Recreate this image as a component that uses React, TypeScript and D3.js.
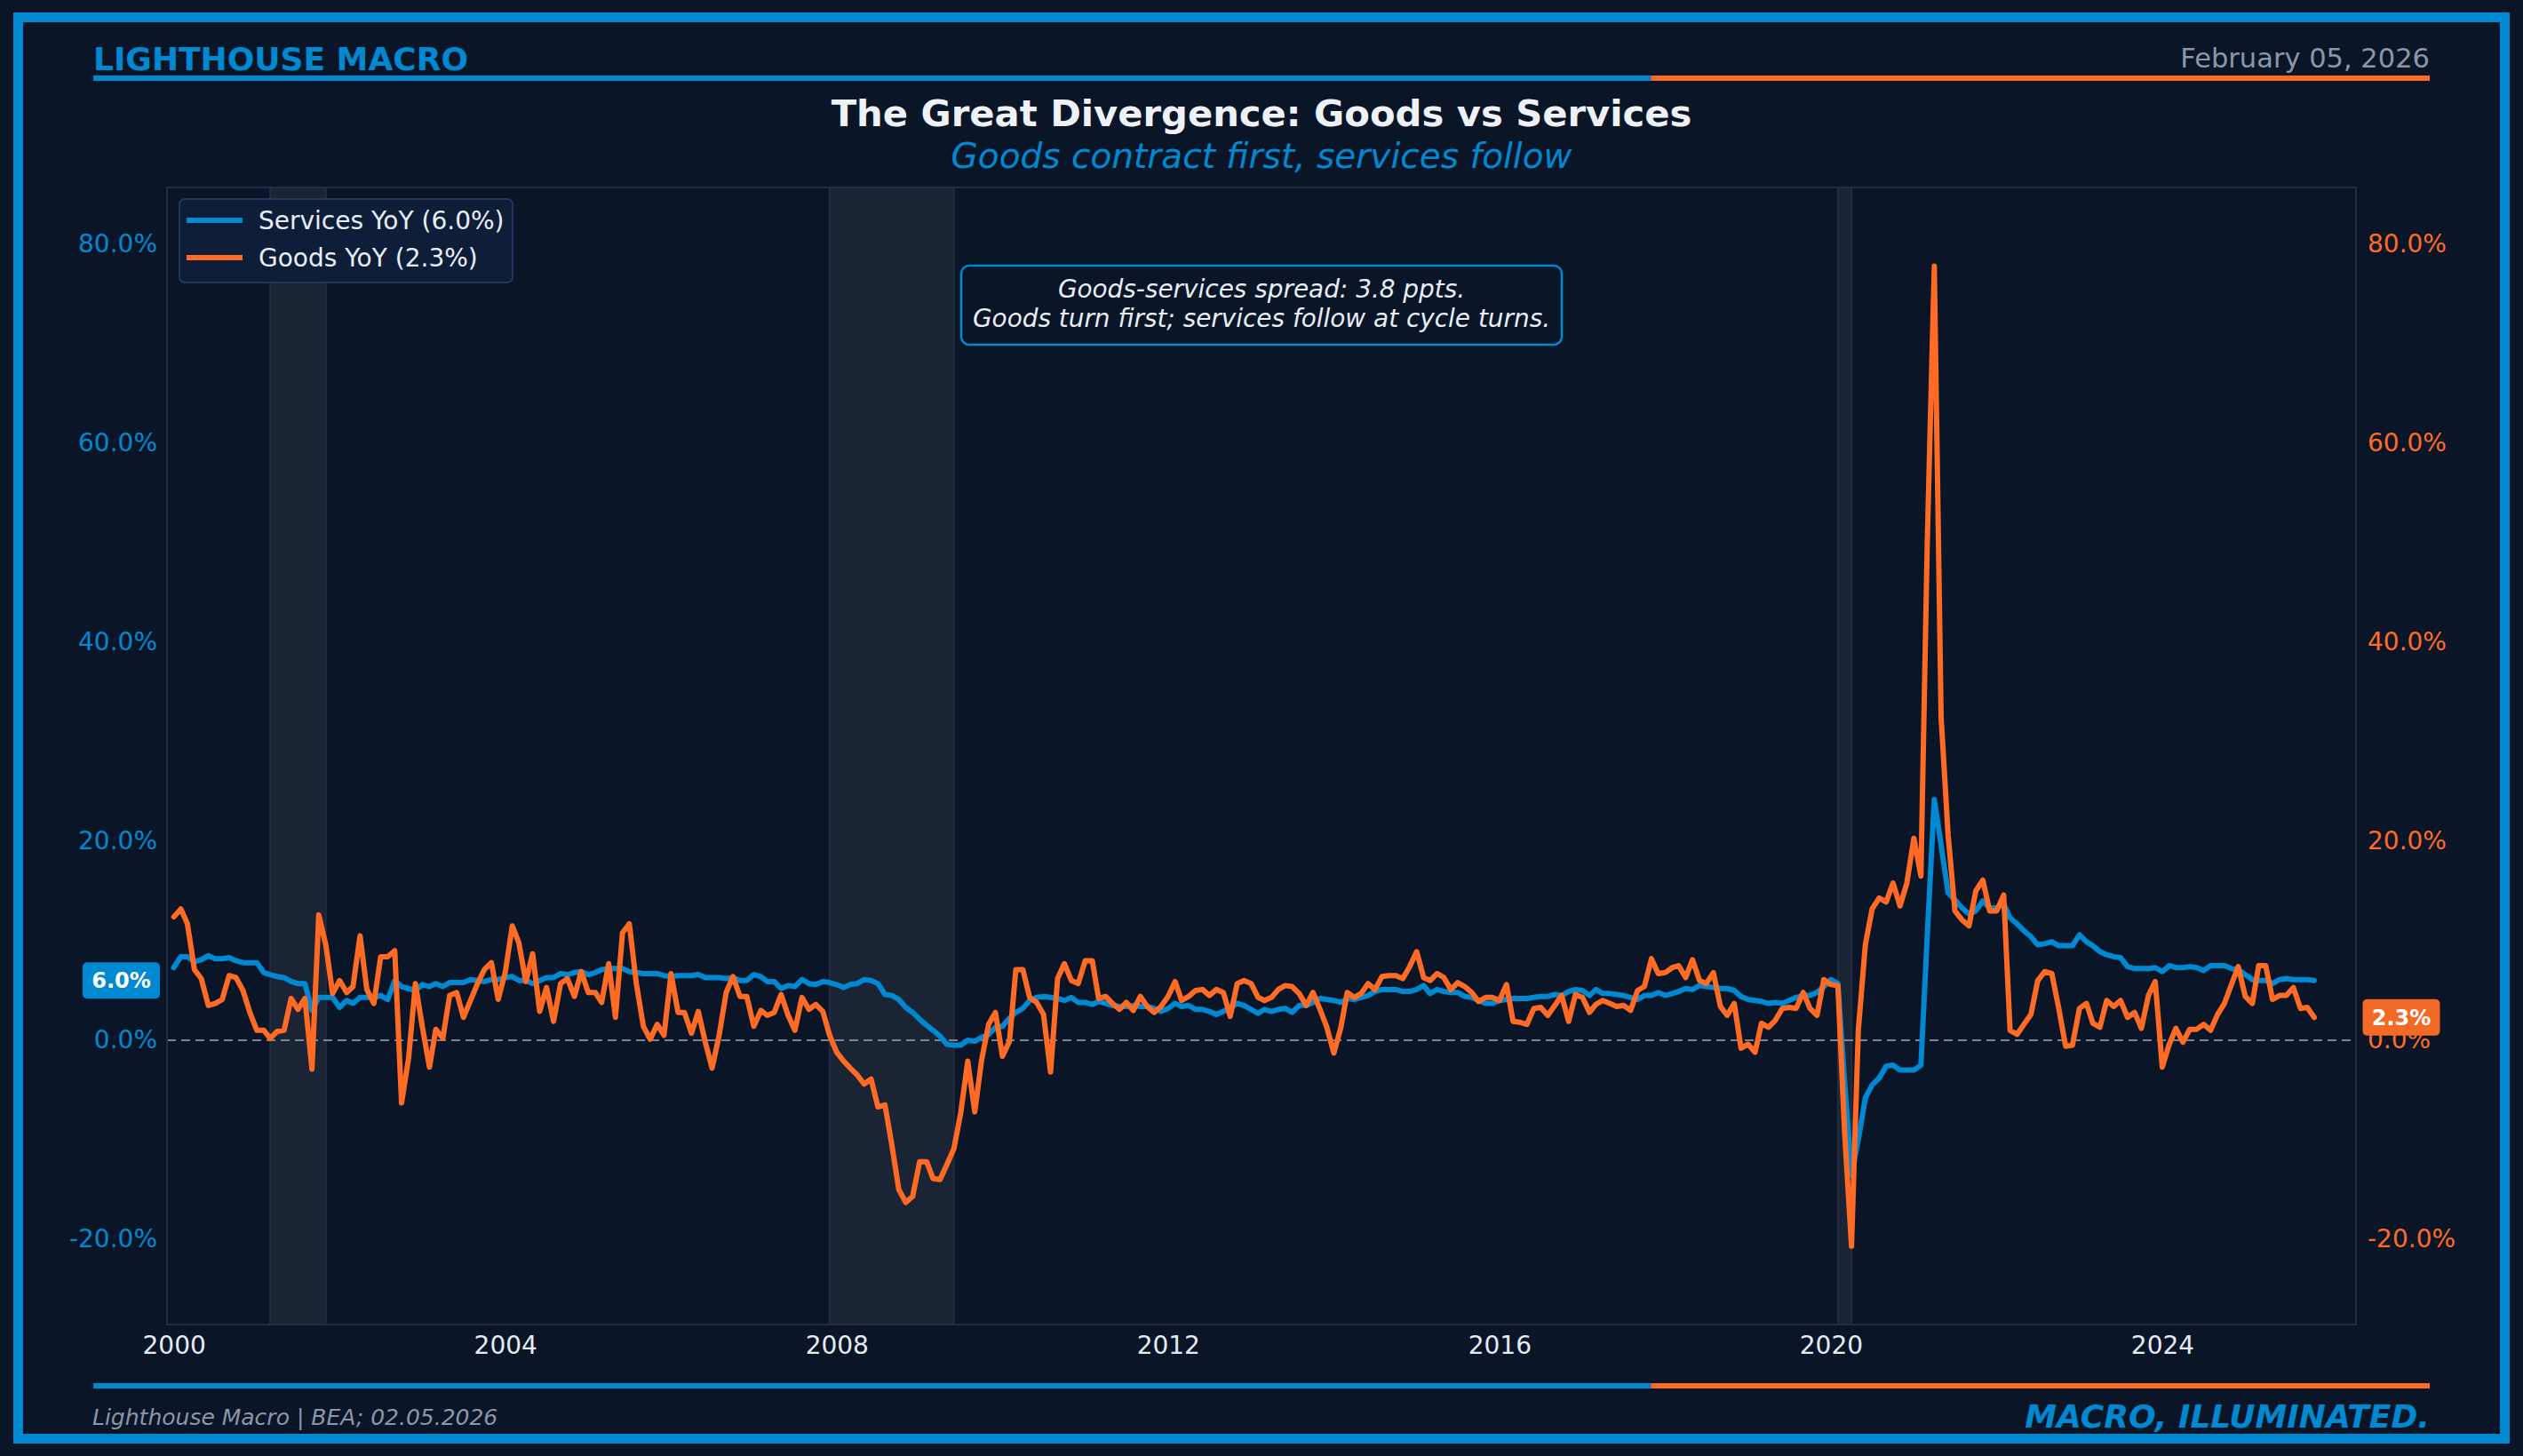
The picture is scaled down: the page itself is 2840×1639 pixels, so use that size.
import React, { useRef, useEffect } from "react";
import * as d3 from "d3";

// Monthly YoY % change, Jan 2000 .. Nov 2025
const servicesYoY: number[] = [
  7.3, 8.4, 8.4, 7.9, 8.1, 8.5, 8.2, 8.2, 8.3, 8.0, 7.8, 7.8,
  7.8, 6.8, 6.6, 6.4, 6.3, 5.9, 5.7, 5.7, 3.0, 4.3, 4.3, 4.3,
  3.3, 4.0, 3.7, 4.3, 4.3, 4.3, 4.5, 4.1, 6.0, 5.4, 5.2, 5.0,
  5.6, 5.4, 5.7, 5.4, 5.8, 5.8, 5.8, 6.1, 6.0, 5.9, 6.1, 6.1,
  6.3, 6.4, 6.0, 6.0, 5.7, 6.0, 6.3, 6.3, 6.7, 6.6, 6.8, 6.9,
  6.6, 6.8, 7.1, 7.2, 7.2, 7.2, 6.9, 6.8, 6.7, 6.7, 6.7, 6.5,
  6.4, 6.5, 6.5, 6.5, 6.6, 6.3, 6.3, 6.3, 6.2, 6.3, 6.0, 6.0,
  6.6, 6.4, 5.9, 5.9, 5.2, 5.5, 5.4, 6.1, 5.7, 5.6, 5.9, 5.8,
  5.6, 5.3, 5.6, 5.7, 6.1, 6.0, 5.7, 4.6, 4.5, 4.1, 3.3, 2.8,
  2.1, 1.5, 1.0, 0.4, -0.4, -0.5, -0.5, 0.0, -0.1, 0.3, 0.6, 1.3,
  1.4, 2.2, 2.8, 3.2, 4.0, 4.3, 4.4, 4.3, 4.2, 4.0, 4.3, 3.8,
  3.8, 3.6, 3.9, 3.7, 3.5, 3.4, 3.4, 3.5, 3.4, 3.4, 3.2, 2.9,
  3.2, 3.7, 3.4, 3.5, 3.1, 3.1, 2.9, 2.6, 2.9, 3.3, 3.7, 3.5,
  3.1, 2.7, 3.1, 2.9, 3.1, 3.2, 2.8, 3.5, 3.5, 3.8, 4.2, 4.1,
  4.0, 3.8, 4.2, 4.1, 4.3, 4.5, 4.9, 5.1, 5.1, 5.1, 4.9, 4.9,
  5.1, 5.5, 4.7, 5.1, 4.9, 4.8, 4.8, 4.4, 4.3, 4.0, 3.7, 3.7,
  4.0, 4.1, 4.2, 4.2, 4.2, 4.3, 4.4, 4.4, 4.6, 4.5, 4.9, 5.1,
  5.0, 4.5, 5.1, 4.7, 4.7, 4.6, 4.5, 4.3, 4.1, 4.5, 4.5, 4.8,
  4.5, 4.7, 4.9, 5.2, 5.1, 5.5, 5.4, 5.3, 5.2, 5.2, 5.0, 4.4,
  4.1, 4.0, 3.9, 3.7, 3.8, 3.7, 4.0, 4.3, 4.5, 4.5, 4.8, 5.4,
  6.1, 5.7, -4.0, -13.5, -10.0, -5.8, -4.5, -3.8, -2.6, -2.5, -3.0, -3.0,
  -3.0, -2.5, 10.5, 24.2, 19.6, 14.8, 14.1, 13.3, 12.7, 13.0, 14.0, 13.3,
  13.3, 13.7, 12.3, 11.7, 11.0, 10.4, 9.6, 9.7, 9.9, 9.5, 9.5, 9.5,
  10.6, 9.9, 9.5, 8.9, 8.6, 8.4, 8.3, 7.4, 7.2, 7.2, 7.2, 7.3,
  6.9, 7.5, 7.3, 7.3, 7.4, 7.3, 7.0, 7.5, 7.5, 7.5, 7.2, 7.1,
  6.6, 6.1, 6.0, 6.0, 5.7, 6.1, 6.2, 6.1, 6.1, 6.1, 6.0,
];

const goodsYoY: number[] = [
  12.4, 13.2, 11.7, 7.1, 6.2, 3.5, 3.7, 4.1, 6.5, 6.3, 5.0, 2.8,
  1.0, 1.0, 0.2, 0.9, 1.0, 4.2, 3.1, 4.2, -2.9, 12.6, 9.6, 4.7,
  6.0, 4.8, 5.4, 10.5, 5.1, 3.7, 8.4, 8.4, 9.0, -6.3, -1.8, 5.7,
  1.3, -2.7, 1.1, 0.2, 4.5, 4.8, 2.3, 4.0, 5.7, 7.1, 7.8, 4.1,
  6.8, 11.5, 9.8, 5.9, 8.7, 2.9, 5.3, 1.9, 5.7, 6.2, 4.4, 6.9,
  4.8, 4.8, 3.8, 7.7, 2.3, 10.8, 11.7, 5.7, 1.4, 0.1, 1.6, 0.5,
  6.7, 2.8, 2.8, 0.7, 2.9, -0.2, -2.8, 0.5, 4.8, 6.4, 4.4, 4.4,
  1.4, 3.0, 2.5, 2.8, 4.6, 2.5, 1.0, 4.3, 3.1, 3.6, 2.9, 0.5,
  -1.2, -2.1, -2.8, -3.5, -4.4, -3.9, -6.7, -6.5, -10.6, -15.0, -16.3, -15.7,
  -12.2, -12.2, -13.9, -14.0, -12.5, -10.9, -7.3, -2.1, -7.2, -2.0, 1.6, 2.8,
  -1.6, -0.1, 7.1, 7.1, 4.3, 3.8, 2.6, -3.2, 6.2, 7.7, 6.0, 5.7,
  8.0, 8.0, 4.2, 4.4, 3.7, 3.1, 3.8, 3.0, 4.4, 3.4, 2.8, 3.4,
  4.4, 5.9, 4.0, 4.4, 5.0, 5.1, 4.5, 5.1, 4.8, 2.4, 5.7, 6.0,
  5.7, 4.3, 4.0, 4.3, 5.1, 5.5, 5.4, 4.7, 3.5, 4.8, 3.1, 1.3,
  -1.3, 1.3, 4.8, 4.3, 4.7, 5.7, 5.1, 6.4, 6.5, 6.5, 6.2, 7.4,
  8.9, 6.3, 6.0, 6.7, 6.3, 5.1, 5.8, 5.4, 4.8, 3.9, 4.3, 4.3,
  4.0, 5.6, 1.9, 1.8, 1.6, 3.2, 3.3, 2.5, 3.5, 4.5, 1.9, 4.6,
  4.3, 2.8, 3.6, 4.0, 3.7, 3.4, 3.5, 3.0, 5.0, 5.4, 8.2, 6.7,
  6.8, 7.3, 7.5, 6.3, 8.1, 6.0, 5.7, 6.8, 3.4, 2.5, 3.7, -0.8,
  -0.4, -1.2, 1.7, 1.3, 2.0, 3.2, 3.3, 3.2, 4.8, 3.2, 2.5, 6.1,
  5.6, 5.5, -9.0, -20.7, 1.0, 9.6, 13.2, 14.3, 13.9, 15.8, 13.5, 15.8,
  20.3, 16.5, 50.0, 77.8, 32.5, 20.6, 13.0, 12.1, 11.5, 15.0, 16.1, 13.0,
  13.0, 14.6, 1.0, 0.6, 1.6, 2.6, 6.0, 6.9, 6.7, 3.3, -0.6, -0.5,
  3.2, 3.7, 1.7, 1.3, 4.0, 3.4, 4.0, 2.3, 2.8, 1.2, 4.5, 5.9,
  -2.7, -0.4, 1.2, -0.2, 1.1, 1.1, 1.6, 1.0, 2.6, 3.7, 5.6, 7.4,
  4.4, 3.7, 7.5, 7.5, 4.1, 4.5, 4.5, 5.3, 3.2, 3.3, 2.3,
];

// NBER recessions shown as shaded bands
const recessions: [string, string][] = [
  ["2001-03-01", "2001-11-01"],
  ["2007-12-01", "2009-06-01"],
  ["2020-02-01", "2020-04-01"],
];

const yTicks = [-20, 0, 20, 40, 60, 80];
const xTickYears = [2000, 2004, 2008, 2012, 2016, 2020, 2024];

const BG = "#0a1628";
const BLUE = "#0089d1";
const ORANGE = "#ff6b24";
const BADGE_ORANGE = "#f26a25";
const GRAY = "#8b96a8";
const TEXT = "#e8eef5";
const FONT = "DejaVu Sans, Verdana, sans-serif";

interface Point {
  date: Date;
  value: number;
}

const App: React.FC = () => {
  const svgRef = useRef<SVGSVGElement | null>(null);

  useEffect(() => {
    document.body.style.margin = "0";
    document.body.style.background = BG;

    const width = 2840;
    const height = 1639;
    const plot = { left: 188, top: 211, right: 2652, bottom: 1491 };

    const toPoints = (arr: number[]): Point[] =>
      arr.map((v, i) => ({ date: new Date(2000, i, 1), value: v }));
    const services = toPoints(servicesYoY);
    const goods = toPoints(goodsYoY);

    d3.select(svgRef.current).selectAll("*").remove();

    const svg = d3
      .select(svgRef.current)
      .attr("width", width)
      .attr("height", height)
      .style("display", "block")
      .style("font-family", FONT);

    svg.append("rect").attr("width", width).attr("height", height).attr("fill", BG);

    // Scales
    const x = d3
      .scaleTime()
      .domain([new Date(1999, 11, 2), new Date(2026, 4, 4)])
      .range([plot.left, plot.right]);

    const y = d3.scaleLinear().domain([-28.57, 85.71]).range([plot.bottom, plot.top]);

    // Outer frame
    svg
      .append("rect")
      .attr("x", 20.5)
      .attr("y", 19.5)
      .attr("width", 2799)
      .attr("height", 1600)
      .attr("fill", "none")
      .attr("stroke", BLUE)
      .attr("stroke-width", 11);

    // Header
    svg
      .append("text")
      .attr("x", 105)
      .attr("y", 79)
      .attr("fill", BLUE)
      .attr("font-size", 36)
      .attr("font-weight", "bold")
      .text("LIGHTHOUSE MACRO");

    svg
      .append("text")
      .attr("x", 2735)
      .attr("y", 76)
      .attr("text-anchor", "end")
      .attr("fill", GRAY)
      .attr("font-size", 30.5)
      .text("February 05, 2026");

    const splitRule = (yPos: number) => {
      const x0 = 105;
      const x1 = 2735;
      const mid = x0 + (x1 - x0) * (2 / 3);
      svg.append("rect").attr("x", x0).attr("y", yPos - 3).attr("width", mid - x0).attr("height", 6).attr("fill", BLUE);
      svg.append("rect").attr("x", mid).attr("y", yPos - 3).attr("width", x1 - mid).attr("height", 6).attr("fill", ORANGE);
    };
    splitRule(88);
    splitRule(1560);

    const centerX = (plot.left + plot.right) / 2;

    svg
      .append("text")
      .attr("x", centerX)
      .attr("y", 142)
      .attr("text-anchor", "middle")
      .attr("fill", "#eef2f7")
      .attr("font-size", 41.7)
      .attr("font-weight", "bold")
      .text("The Great Divergence: Goods vs Services");

    svg
      .append("text")
      .attr("x", centerX)
      .attr("y", 189)
      .attr("text-anchor", "middle")
      .attr("fill", BLUE)
      .attr("font-size", 39)
      .attr("font-style", "italic")
      .text("Goods contract first, services follow");

    // Plot clip
    svg
      .append("defs")
      .append("clipPath")
      .attr("id", "plot-clip")
      .append("rect")
      .attr("x", plot.left)
      .attr("y", plot.top)
      .attr("width", plot.right - plot.left)
      .attr("height", plot.bottom - plot.top);

    const g = svg.append("g").attr("clip-path", "url(#plot-clip)");

    // Recession shading
    g.selectAll(".recession")
      .data(recessions)
      .join("rect")
      .attr("x", (d) => x(new Date(d[0] + "T00:00:00")))
      .attr("y", plot.top)
      .attr("width", (d) => x(new Date(d[1] + "T00:00:00")) - x(new Date(d[0] + "T00:00:00")))
      .attr("height", plot.bottom - plot.top)
      .attr("fill", "#1a2434")
      .attr("stroke", "#222e40")
      .attr("stroke-width", 2);

    // Zero line
    g.append("line")
      .attr("x1", plot.left)
      .attr("x2", plot.right)
      .attr("y1", y(0))
      .attr("y2", y(0))
      .attr("stroke", GRAY)
      .attr("stroke-width", 2)
      .attr("stroke-dasharray", "10,6")
      .attr("opacity", 0.85);

    const line = d3
      .line<Point>()
      .x((d) => x(d.date))
      .y((d) => y(d.value));

    g.append("path")
      .datum(services)
      .attr("fill", "none")
      .attr("stroke", BLUE)
      .attr("stroke-width", 6)
      .attr("stroke-linejoin", "round")
      .attr("stroke-linecap", "round")
      .attr("d", line);

    g.append("path")
      .datum(goods)
      .attr("fill", "none")
      .attr("stroke", ORANGE)
      .attr("stroke-width", 6)
      .attr("stroke-linejoin", "round")
      .attr("stroke-linecap", "round")
      .attr("d", line);

    // Plot border
    svg
      .append("rect")
      .attr("x", plot.left)
      .attr("y", plot.top)
      .attr("width", plot.right - plot.left)
      .attr("height", plot.bottom - plot.top)
      .attr("fill", "none")
      .attr("stroke", "#1f2e48")
      .attr("stroke-width", 2);

    // Axes
    const fmt = (d: d3.NumberValue) => `${(+d).toFixed(1)}%`;

    const styleAxis = (sel: d3.Selection<SVGGElement, unknown, null, undefined>, color: string) => {
      sel.select(".domain").remove();
      sel.selectAll(".tick line").remove();
      sel
        .selectAll("text")
        .attr("fill", color)
        .style("font-family", FONT)
        .style("font-size", "28px");
    };

    const leftAxis = svg
      .append("g")
      .attr("transform", `translate(${plot.left},0)`)
      .call(d3.axisLeft(y).tickValues(yTicks).tickFormat(fmt).tickSize(0).tickPadding(11));
    styleAxis(leftAxis, BLUE);

    const rightAxis = svg
      .append("g")
      .attr("transform", `translate(${plot.right},0)`)
      .call(d3.axisRight(y).tickValues(yTicks).tickFormat(fmt).tickSize(0).tickPadding(13));
    styleAxis(rightAxis, ORANGE);

    const bottomAxis = svg
      .append("g")
      .attr("transform", `translate(0,${plot.bottom})`)
      .call(
        d3
          .axisBottom(x)
          .tickValues(xTickYears.map((yr) => new Date(yr, 0, 1)))
          .tickFormat((d) => d3.timeFormat("%Y")(d as Date))
          .tickSize(0)
          .tickPadding(13)
      );
    styleAxis(bottomAxis, "#e6ebf2");

    // Legend
    const legend = svg.append("g");
    legend
      .append("rect")
      .attr("x", 202)
      .attr("y", 224)
      .attr("width", 375)
      .attr("height", 94)
      .attr("rx", 6)
      .attr("fill", "#0f1e38")
      .attr("stroke", "#22355a")
      .attr("stroke-width", 2);

    const legendItems = [
      { label: `Services YoY (${servicesYoY[servicesYoY.length - 1].toFixed(1)}%)`, color: BLUE },
      { label: `Goods YoY (${goodsYoY[goodsYoY.length - 1].toFixed(1)}%)`, color: ORANGE },
    ];
    legendItems.forEach((item, i) => {
      const ly = 248 + i * 42;
      legend
        .append("line")
        .attr("x1", 210)
        .attr("x2", 273)
        .attr("y1", ly)
        .attr("y2", ly)
        .attr("stroke", item.color)
        .attr("stroke-width", 6);
      legend
        .append("text")
        .attr("x", 291)
        .attr("y", ly)
        .attr("dy", "0.35em")
        .attr("fill", TEXT)
        .attr("font-size", 28)
        .text(item.label);
    });

    // Annotation box
    svg
      .append("rect")
      .attr("x", 1082)
      .attr("y", 299)
      .attr("width", 676)
      .attr("height", 89)
      .attr("rx", 9)
      .attr("fill", BG)
      .attr("stroke", BLUE)
      .attr("stroke-width", 2.5);

    ["Goods-services spread: 3.8 ppts.", "Goods turn first; services follow at cycle turns."].forEach((t, i) => {
      svg
        .append("text")
        .attr("x", centerX)
        .attr("y", 335 + i * 33)
        .attr("text-anchor", "middle")
        .attr("fill", TEXT)
        .attr("font-size", 27.9)
        .attr("font-style", "italic")
        .text(t);
    });

    // Last-value badges
    const badge = (cx: number, value: number, fill: string) => {
      const cy = y(value);
      svg
        .append("rect")
        .attr("x", cx - 43.5)
        .attr("y", cy - 20.5)
        .attr("width", 87)
        .attr("height", 41)
        .attr("rx", 5)
        .attr("fill", fill);
      svg
        .append("text")
        .attr("x", cx)
        .attr("y", cy)
        .attr("dy", "0.35em")
        .attr("text-anchor", "middle")
        .attr("fill", "#ffffff")
        .attr("font-size", 24)
        .attr("font-weight", "bold")
        .text(`${value.toFixed(1)}%`);
    };
    badge(136.5, servicesYoY[servicesYoY.length - 1], BLUE);
    badge(2703, goodsYoY[goodsYoY.length - 1], BADGE_ORANGE);

    // Footer
    svg
      .append("text")
      .attr("x", 104)
      .attr("y", 1604)
      .attr("fill", GRAY)
      .attr("font-size", 25)
      .attr("font-style", "italic")
      .text("Lighthouse Macro | BEA; 02.05.2026");

    svg
      .append("text")
      .attr("x", 2735)
      .attr("y", 1607)
      .attr("text-anchor", "end")
      .attr("fill", BLUE)
      .attr("font-size", 36)
      .attr("font-weight", "bold")
      .attr("font-style", "italic")
      .text("MACRO, ILLUMINATED.");
  }, []);

  return (
    <div>
      <svg ref={svgRef}></svg>
    </div>
  );
};

export default App;
